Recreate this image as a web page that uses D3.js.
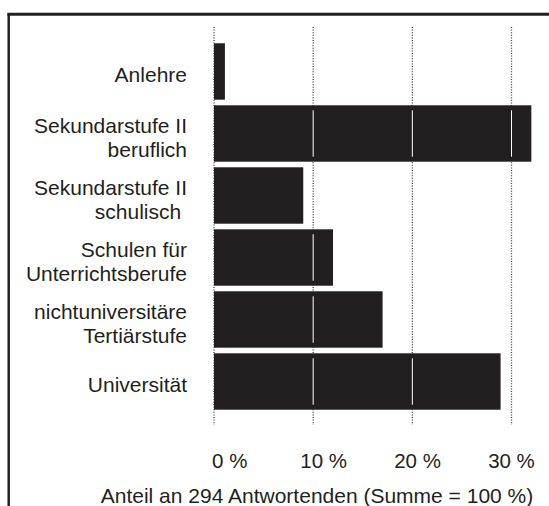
<!DOCTYPE html>
<html>
<head>
<meta charset="utf-8">
<script src="https://cdn.jsdelivr.net/npm/d3@7"></script>
<style>
  html, body { margin: 0; padding: 0; background: #fff; }
  svg { display: block; }
  text { font-family: "Liberation Sans", Arial, sans-serif; fill: #231f20; }
</style>
</head>
<body>
<svg id="chart" width="549" height="506"></svg>
<script>
// ---- data ----
const categories = [
  ["Anlehre"],
  ["Sekundarstufe II", "beruflich"],
  ["Sekundarstufe II", "schulisch\u00a0"],
  ["Schulen für", "Unterrichtsberufe"],
  ["nichtuniversitäre", "Tertiärstufe"],
  ["Universität"]
];
const values = [1.1, 32.0, 9.0, 12.0, 17.0, 28.9];
const tickValues = [0, 10, 20, 30];
const tickLabels = ["0 %", "10 %", "20 %", "30 %"];
const axisTitle = "Anteil an 294 Antwortenden (Summe = 100 %)";

// ---- drawing ----
const svg = d3.select("#chart");
const ink = "#231f20";
const ids = categories.map((c, i) => i);

const x = d3.scaleLinear().domain([0, 30]).range([214, 511.5]);
const xLabel = d3.scaleLinear().domain([0, 30]).range([229.7, 511.5]);
const y = d3.scaleBand().domain(ids).range([40.5, 412.5]).paddingInner(0.09).paddingOuter(0.045);

// frame (open at right and bottom)
svg.append("line").attr("x1", 7.5).attr("x2", 549).attr("y1", 14.3).attr("y2", 14.3)
  .attr("stroke", ink).attr("stroke-width", 3);
svg.append("line").attr("x1", 8.7).attr("x2", 8.7).attr("y1", 13).attr("y2", 506)
  .attr("stroke", ink).attr("stroke-width", 2.5);

// dotted gridlines
svg.append("g").selectAll("line").data(tickValues).join("line")
  .attr("x1", d => x(d)).attr("x2", d => x(d))
  .attr("y1", 27).attr("y2", 425)
  .attr("stroke", "#3a3a3a").attr("stroke-width", 1.3)
  .attr("stroke-dasharray", "1,1.6");

// bars
svg.append("g").selectAll("rect").data(ids).join("rect")
  .attr("x", x(0)).attr("y", i => y(i))
  .attr("width", i => x(values[i]) - x(0))
  .attr("height", y.bandwidth())
  .attr("fill", ink);

// white gridline traces inside bars
const traces = [];
ids.forEach(i => tickValues.forEach(t => { if (t > 0 && values[i] > t + 0.3) traces.push({ i, t }); }));
svg.append("g").selectAll("line").data(traces).join("line")
  .attr("x1", d => x(d.t)).attr("x2", d => x(d.t))
  .attr("y1", d => y(d.i) + 5).attr("y2", d => y(d.i) + y.bandwidth() - 5)
  .attr("stroke", "#fff").attr("stroke-width", 1);

// category labels
const lab = svg.append("g").attr("font-size", 21).attr("text-anchor", "end");
ids.forEach(i => {
  const lines = categories[i];
  const n = lines.length;
  const c = y(i) + y.bandwidth() / 2;
  const first = c + 10 + (n - 1) * 1.5 - (n - 1) * 11.75;
  lines.forEach((t, k) => {
    lab.append("text").attr("x", 187).attr("y", first + k * 23.5).text(t);
  });
});

// tick labels
svg.append("g").attr("font-size", 20.5).attr("text-anchor", "middle")
  .selectAll("text").data(tickValues).join("text")
  .attr("x", d => xLabel(d)).attr("y", 468)
  .text((d, i) => tickLabels[i]);

// axis title
svg.append("text").attr("x", 317).attr("y", 503).attr("font-size", 21)
  .attr("text-anchor", "middle").text(axisTitle);
</script>
</body>
</html>
